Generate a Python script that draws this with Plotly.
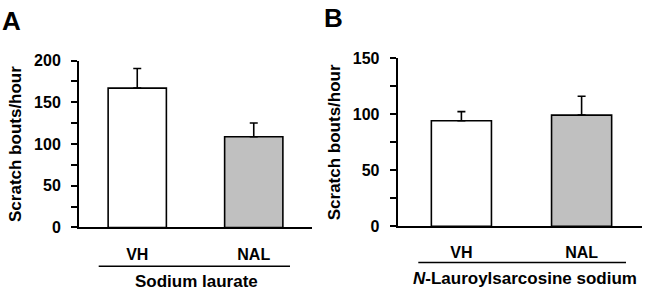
import plotly.graph_objects as go

W, H = 652, 308

categories = ["VH", "NAL"]
# Panel A: Sodium laurate
a_values = [167, 108.7]
a_errors = [23.6, 16.6]
# Panel B: N-Lauroylsarcosine sodium
b_values = [94.3, 99.3]
b_errors = [8.1, 16.9]

a_ticks = [0, 50, 100, 150, 200]
b_ticks = [0, 50, 100, 150]

bar_colors = ["#ffffff", "#c0c0c0"]
FONT = "Arial, Liberation Sans, sans-serif"

fig = go.Figure()

def add_bars(vals, errs, xa, ya):
    fig.add_trace(go.Bar(
        x=categories, y=vals,
        marker=dict(color=bar_colors, line=dict(color="black", width=1.6)),
        width=0.5,
        error_y=dict(type="data", array=errs, arrayminus=[0] * len(errs),
                     symmetric=False, color="black", thickness=1.6, width=4),
        xaxis=xa, yaxis=ya, showlegend=False,
    ))

add_bars(a_values, a_errors, "x", "y")
add_bars(b_values, b_errors, "x2", "y2")

def px(x):
    return x / W

def py(y):
    return 1 - y / H

common_x = dict(
    showline=True, linecolor="black", linewidth=2,
    ticks="outside", ticklen=0, tickcolor="rgba(0,0,0,0)",
    ticklabelstandoff=11,
    tickfont=dict(family=FONT, size=16, color="black", weight="bold"),
    showgrid=False, zeroline=False, fixedrange=True,
)
common_y = dict(
    showline=True, linecolor="black", linewidth=2,
    ticks="outside", ticklen=6, tickwidth=1.6, tickcolor="black",
    ticklabelstandoff=7,
    minor=dict(dtick=25, ticks="outside", ticklen=6, tickwidth=1.6, tickcolor="black"),
    tickfont=dict(family=FONT, size=16, color="black", weight="bold"),
    showgrid=False, zeroline=False, fixedrange=True,
)
ytitle_font = dict(family=FONT, size=17, color="black", weight="bold")

fig.update_layout(
    width=W, height=H,
    margin=dict(l=0, r=0, t=0, b=0),
    paper_bgcolor="white", plot_bgcolor="white",
    font=dict(family=FONT, color="black"),
    xaxis=dict(domain=[px(79), px(312)], range=[-0.5, 1.5], anchor="y", **common_x),
    yaxis=dict(domain=[py(232.3), py(55.7)], range=[0, 200], tickvals=a_ticks,
               anchor="x",
               title=dict(text="Scratch bouts/hour", standoff=8, font=ytitle_font),
               **common_y),
    xaxis2=dict(domain=[px(397.7), px(641.7)], range=[-0.53, 1.5], anchor="y2", **common_x),
    yaxis2=dict(domain=[py(231), py(53.3)], range=[0, 150], tickvals=b_ticks,
                anchor="x2",
                title=dict(text="Scratch bouts/hour", standoff=8, font=ytitle_font),
                **common_y),
)

# group underline lines
fig.add_shape(type="line", xref="paper", yref="paper",
              x0=px(98.7), x1=px(290), y0=py(273.3), y1=py(273.3),
              line=dict(color="black", width=1.6))
fig.add_shape(type="line", xref="paper", yref="paper",
              x0=px(418.3), x1=px(626), y0=py(269.3), y1=py(269.3),
              line=dict(color="black", width=1.6))

label_font = dict(family=FONT, size=17, color="black", weight="bold")
fig.add_annotation(text="Sodium laurate", xref="paper", yref="paper",
                   x=px(196.7), y=py(290), xanchor="center", yanchor="middle",
                   showarrow=False, font=label_font)
fig.add_annotation(text="<i>N</i>-Lauroylsarcosine sodium", xref="paper", yref="paper",
                   x=px(525), y=py(286), xanchor="center", yanchor="middle",
                   showarrow=False, font=label_font)

# panel letters
letter_font = dict(family=FONT, size=26, color="black", weight="bold")
fig.add_annotation(text="A", xref="paper", yref="paper",
                   x=0, y=py(14), xanchor="left", yanchor="middle",
                   showarrow=False, font=letter_font)
fig.add_annotation(text="B", xref="paper", yref="paper",
                   x=px(322), y=py(11), xanchor="left", yanchor="middle",
                   showarrow=False, font=letter_font)

fig.write_html("out.html")
